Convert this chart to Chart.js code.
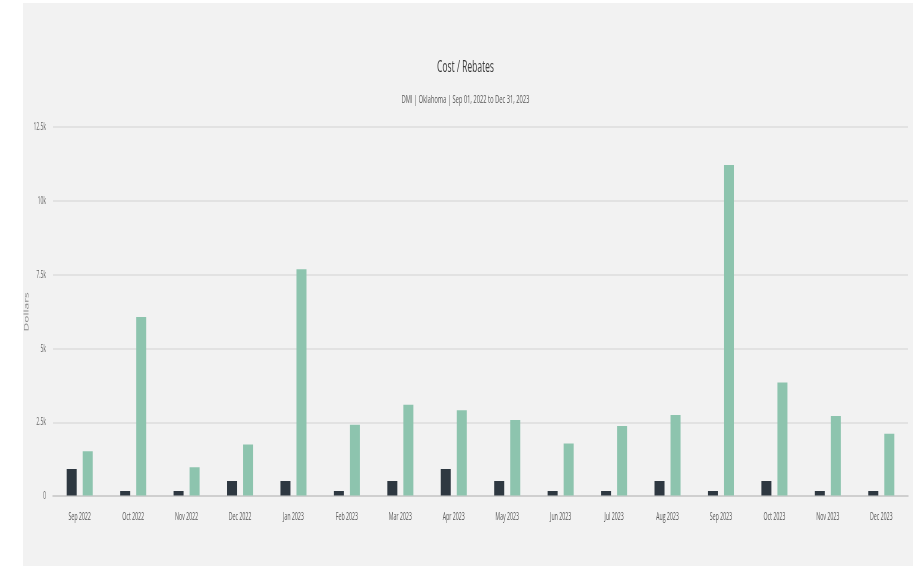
<!DOCTYPE html>
<html>
<head>
<meta charset="utf-8">
<script src="https://cdn.jsdelivr.net/npm/chart.js@4/dist/chart.umd.min.js"></script>
<style>
html, body { margin: 0; padding: 0; background: #ffffff; overflow: hidden; width: 922px; height: 566px; }
#wrap { width: 1844px; height: 566px; transform: scaleX(0.5); transform-origin: 0 0; }
</style>
</head>
<body>
<div id="wrap"><canvas id="c" width="1844" height="566"></canvas></div>
<script>
const categories = ['Sep 2022','Oct 2022','Nov 2022','Dec 2022','Jan 2023','Feb 2023','Mar 2023','Apr 2023','May 2023','Jun 2023','Jul 2023','Aug 2023','Sep 2023','Oct 2023','Nov 2023','Dec 2023'];
const costValues = [930, 180, 180, 520, 520, 180, 520, 930, 520, 180, 180, 520, 180, 520, 180, 180];
const rebateValues = [1530, 6070, 990, 1760, 7690, 2430, 3100, 2920, 2590, 1790, 2380, 2760, 11220, 3860, 2720, 2120];
const yTickValues = [0, 2500, 5000, 7500, 10000, 12500];
const yTickLabels = ['0', '2.5k', '5k', '7.5k', '10k', '12.5k'];
const chartTitle = 'Cost / Rebates';
const chartSubtitle = 'DMI | Oklahoma | Sep 01, 2022 to Dec 31, 2023';
const yAxisTitle = 'Dollars';

const panelPlugin = {
  id: 'panel',
  beforeDraw(chart) {
    const ctx = chart.ctx;
    ctx.save();
    ctx.fillStyle = '#f2f2f2';
    ctx.fillRect(46, 3, 1780, 563);
    ctx.restore();
  }
};

new Chart(document.getElementById('c'), {
  type: 'bar',
  data: {
    labels: categories,
    datasets: [
      { label: 'Cost', data: costValues, backgroundColor: '#2e3841', categoryPercentage: 0.6, barPercentage: 0.625 },
      { label: 'Rebates', data: rebateValues, backgroundColor: '#8dc4ae', categoryPercentage: 0.6, barPercentage: 0.625 }
    ]
  },
  options: {
    responsive: false,
    animation: false,
    devicePixelRatio: 1,
    layout: { padding: { top: 40, left: 46, right: 28, bottom: 29 } },
    plugins: {
      legend: { display: false },
      tooltip: { enabled: false },
      title: {
        display: true, text: chartTitle, color: '#3a3a3a',
        font: { family: 'Open Sans', size: 17, weight: '400', lineHeight: 1.2 },
        padding: { top: 17, bottom: 0 }
      },
      subtitle: {
        display: true, text: chartSubtitle, color: '#555555',
        font: { family: 'Open Sans', size: 11.5, weight: '400', lineHeight: 1.2 },
        padding: { top: 15, bottom: 21 }
      }
    },
    scales: {
      x: {
        grid: { display: false, drawTicks: false },
        border: { display: true, color: '#cfcfcf', width: 2 },
        ticks: { color: '#555555', font: { family: 'Open Sans', size: 10.5 }, padding: 14, autoSkip: false, maxRotation: 0 }
      },
      y: {
        min: 0, max: 12500,
        afterBuildTicks(scale) { scale.ticks = yTickValues.map(v => ({ value: v })); },
        afterFit(scale) { scale.width = 60; },
        grid: { color: '#e2e2e2', lineWidth: 2, drawTicks: false },
        border: { display: false },
        ticks: {
          color: '#666666', font: { family: 'Open Sans', size: 10 }, padding: 14,
          callback(value) { const i = yTickValues.indexOf(value); return i >= 0 ? yTickLabels[i] : ''; }
        },
        title: {
          display: true, text: yAxisTitle, color: '#8a8a8a',
          font: { family: 'Open Sans', size: 12 }, padding: { top: 0, bottom: 0 }
        }
      }
    }
  },
  plugins: [panelPlugin]
});
</script>
</body>
</html>
